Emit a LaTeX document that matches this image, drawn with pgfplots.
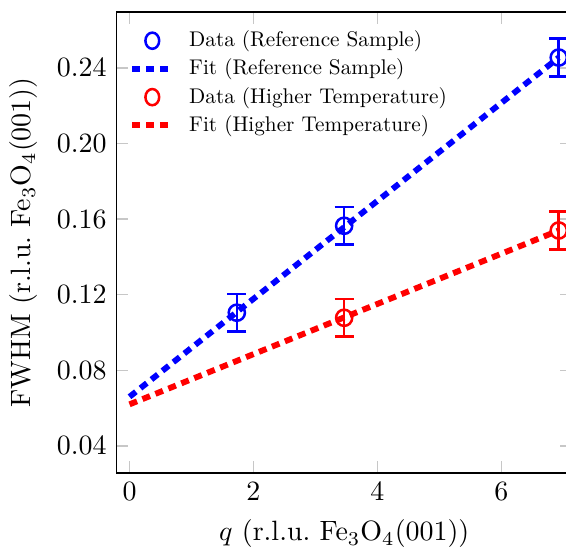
\documentclass[border=0pt]{standalone}
\usepackage{pgfplots}
\pgfplotsset{compat=1.18}
\newcommand\leg[1]{\scalebox{0.76}{#1}}
\begin{document}
\begin{tikzpicture}
\begin{axis}[
  scale only axis,
  width=163pt, height=165pt,
  xmin=-0.21, xmax=7.14,
  ymin=0.0257, ymax=0.2696,
  xtick={0,2,4,6},
  ytick={0.04,0.08,0.12,0.16,0.20,0.24},
  yticklabel style={/pgf/number format/.cd, fixed, fixed zerofill, precision=2},
  tick style={black!22, line width=0.5pt},
  xlabel={$q$ (r.l.u.\ Fe$_3$O$_4$(001))},
  ylabel={FWHM (r.l.u.\ Fe$_3$O$_4$(001))},
  ylabel style={name=ylab},
  xlabel style={name=xlab},
  legend style={draw=none, fill=none, at={(0.008,0.985)}, anchor=north west, row sep=-1.1pt,
    /tikz/every odd column/.append style={column sep=2.9pt}},
  legend image post style={xscale=0.85},
  legend cell align=left,
]
\addplot[only marks, blue, mark=o, mark size=2.9pt, mark options={line width=0.9pt},
  error bars/.cd, y dir=both, y explicit,
  error bar style={line width=0.9pt},
  error mark options={rotate=90, mark size=3.4pt, line width=0.9pt}]
  coordinates {
  (1.732,0.1105) +- (0,0.0100)
  (3.464,0.1565) +- (0,0.0100)
  (6.928,0.2455) +- (0,0.0100)
};
\addlegendentry{\leg{Data (Reference Sample)}}
\addplot[blue, line width=2.1pt, dash pattern=on 2.9pt off 2.1pt] coordinates {
  (0,0.0660) (6.928,0.2455)
};
\addlegendentry{\leg{Fit (Reference Sample)}}
\addplot[only marks, red, mark=o, mark size=2.9pt, mark options={line width=0.9pt},
  error bars/.cd, y dir=both, y explicit,
  error bar style={line width=0.9pt},
  error mark options={rotate=90, mark size=3.4pt, line width=0.9pt}]
  coordinates {
  (3.464,0.1078) +- (0,0.0100)
  (6.928,0.1540) +- (0,0.0100)
};
\addlegendentry{\leg{Data (Higher Temperature)}}
\addplot[red, line width=2.1pt, dash pattern=on 2.9pt off 2.1pt] coordinates {
  (0,0.0620) (6.928,0.1540)
};
\addlegendentry{\leg{Fit (Higher Temperature)}}
\end{axis}
\pgfresetboundingbox
\path[use as bounding box] (ylab.north |- xlab.south) rectangle ([xshift=-2.1pt,yshift=4.3pt]current axis.north east);
\end{tikzpicture}
\end{document}
